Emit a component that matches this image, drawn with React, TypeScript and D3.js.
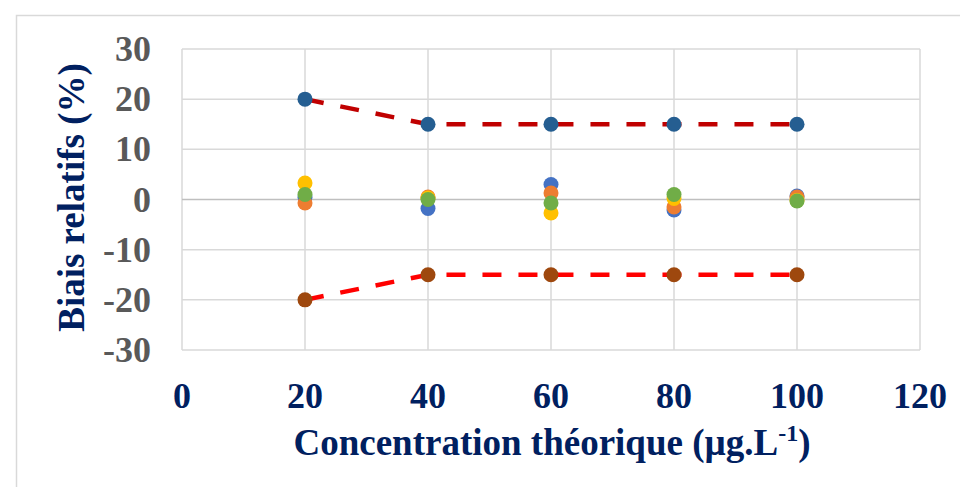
import React, { useEffect, useRef } from 'react'
import * as d3 from 'd3'

const concentrations = [20, 40, 60, 80, 100]
const serieBleue = [0.4, -1.8, 3.0, -2.1, 0.7]
const serieOrange = [-0.7, 0.5, 1.3, -1.5, 0.5]
const serieJaune = [3.3, 0.3, -2.7, 0.2, -0.2]
const serieVerte = [1.0, 0.0, -0.7, 1.0, -0.3]
const limiteHaute = [20, 15, 15, 15, 15]
const limiteBasse = [-20, -15, -15, -15, -15]
const xTicks = [0, 20, 40, 60, 80, 100, 120]
const yTicks = [-30, -20, -10, 0, 10, 20, 30]

const App = () => {
    const ref = useRef<SVGSVGElement>(null)

    useEffect(() => {
        drawChart()
    }, [])

    const drawChart = () => {
        const width = 960
        const height = 487
        const left = 182
        const right = 920
        const top = 49
        const bottom = 350
        const font = '"Liberation Serif", "Times New Roman", serif'

        const svg = d3.select(ref.current)
        svg.selectAll('*').remove()

        const xScale = d3.scaleLinear().domain([0, 120]).range([left, right])
        const yScale = d3.scaleLinear().domain([-30, 30]).range([bottom, top])

        svg.append('rect')
            .attr('width', width).attr('height', height).attr('fill', '#fff')
        svg.append('rect')
            .attr('x', 16.5).attr('y', 15.5)
            .attr('width', 1000).attr('height', 600)
            .attr('fill', 'none').attr('stroke', '#d9d9d9').attr('stroke-width', 1.5)

        // grid
        svg.append('g').selectAll('line')
            .data(xTicks)
            .enter()
            .append('line')
            .attr('x1', d => xScale(d)).attr('x2', d => xScale(d))
            .attr('y1', top).attr('y2', bottom)
            .attr('stroke', '#d9d9d9').attr('stroke-width', 1.5)
        svg.append('g').selectAll('line')
            .data(yTicks)
            .enter()
            .append('line')
            .attr('x1', left).attr('x2', right)
            .attr('y1', d => yScale(d)).attr('y2', d => yScale(d))
            .attr('stroke', d => d === 0 ? '#bfbfbf' : '#d9d9d9').attr('stroke-width', 1.5)

        // tick labels
        svg.append('g').selectAll('text')
            .data(yTicks)
            .enter()
            .append('text')
            .text(d => d)
            .attr('x', 151).attr('y', d => yScale(d) + 12)
            .attr('text-anchor', 'end')
            .attr('font-family', font).attr('font-weight', 'bold').attr('font-size', 36)
            .attr('fill', '#595959')
        svg.append('g').selectAll('text')
            .data(xTicks)
            .enter()
            .append('text')
            .text(d => d)
            .attr('x', d => xScale(d)).attr('y', 408)
            .attr('text-anchor', 'middle')
            .attr('font-family', font).attr('font-weight', 'bold').attr('font-size', 36)
            .attr('fill', '#002060')

        // axis titles
        svg.append('text')
            .attr('transform', `translate(84, ${(top + bottom) / 2 - 2}) rotate(-90)`)
            .attr('text-anchor', 'middle')
            .attr('font-family', font).attr('font-weight', 'bold').attr('font-size', 37)
            .attr('fill', '#002060')
            .text('Biais relatifs (%)')
        const xTitle = svg.append('text')
            .attr('x', 552).attr('y', 455)
            .attr('text-anchor', 'middle')
            .attr('font-family', font).attr('font-weight', 'bold').attr('font-size', 37)
            .attr('fill', '#002060')
        xTitle.append('tspan').text('Concentration théorique (µg.L')
        xTitle.append('tspan').text('-1').attr('font-size', 24).attr('dy', -14)
        xTitle.append('tspan').text(')').attr('dy', 14)

        // limit lines
        const line = d3.line<number>()
            .x((d, i) => xScale(concentrations[i]))
            .y(d => yScale(d))
        svg.append('path')
            .attr('d', line(limiteHaute))
            .attr('fill', 'none').attr('stroke', '#c00000').attr('stroke-width', 4.5)
            .attr('stroke-dasharray', '19 17')
        svg.append('path')
            .attr('d', line(limiteBasse))
            .attr('fill', 'none').attr('stroke', '#ff0000').attr('stroke-width', 4.5)
            .attr('stroke-dasharray', '19 17')

        const series = [
            { values: serieBleue, color: '#4472c4' },
            { values: serieOrange, color: '#ed7d31' },
            { values: serieJaune, color: '#ffc000' },
            { values: serieVerte, color: '#70ad47' },
            { values: limiteHaute, color: '#255e91' },
            { values: limiteBasse, color: '#9e480e' }
        ]

        series.forEach(s => {
            svg.append('g').selectAll('circle')
                .data(s.values)
                .enter()
                .append('circle')
                .attr('cx', (d, i) => xScale(concentrations[i]))
                .attr('cy', d => yScale(d))
                .attr('r', 7.5)
                .attr('fill', s.color)
        })
    }

    return (
        <svg ref={ref} width={960} height={487}
            style={{ position: 'absolute', left: 0, top: 0 }}></svg>
    )
}

export default App
